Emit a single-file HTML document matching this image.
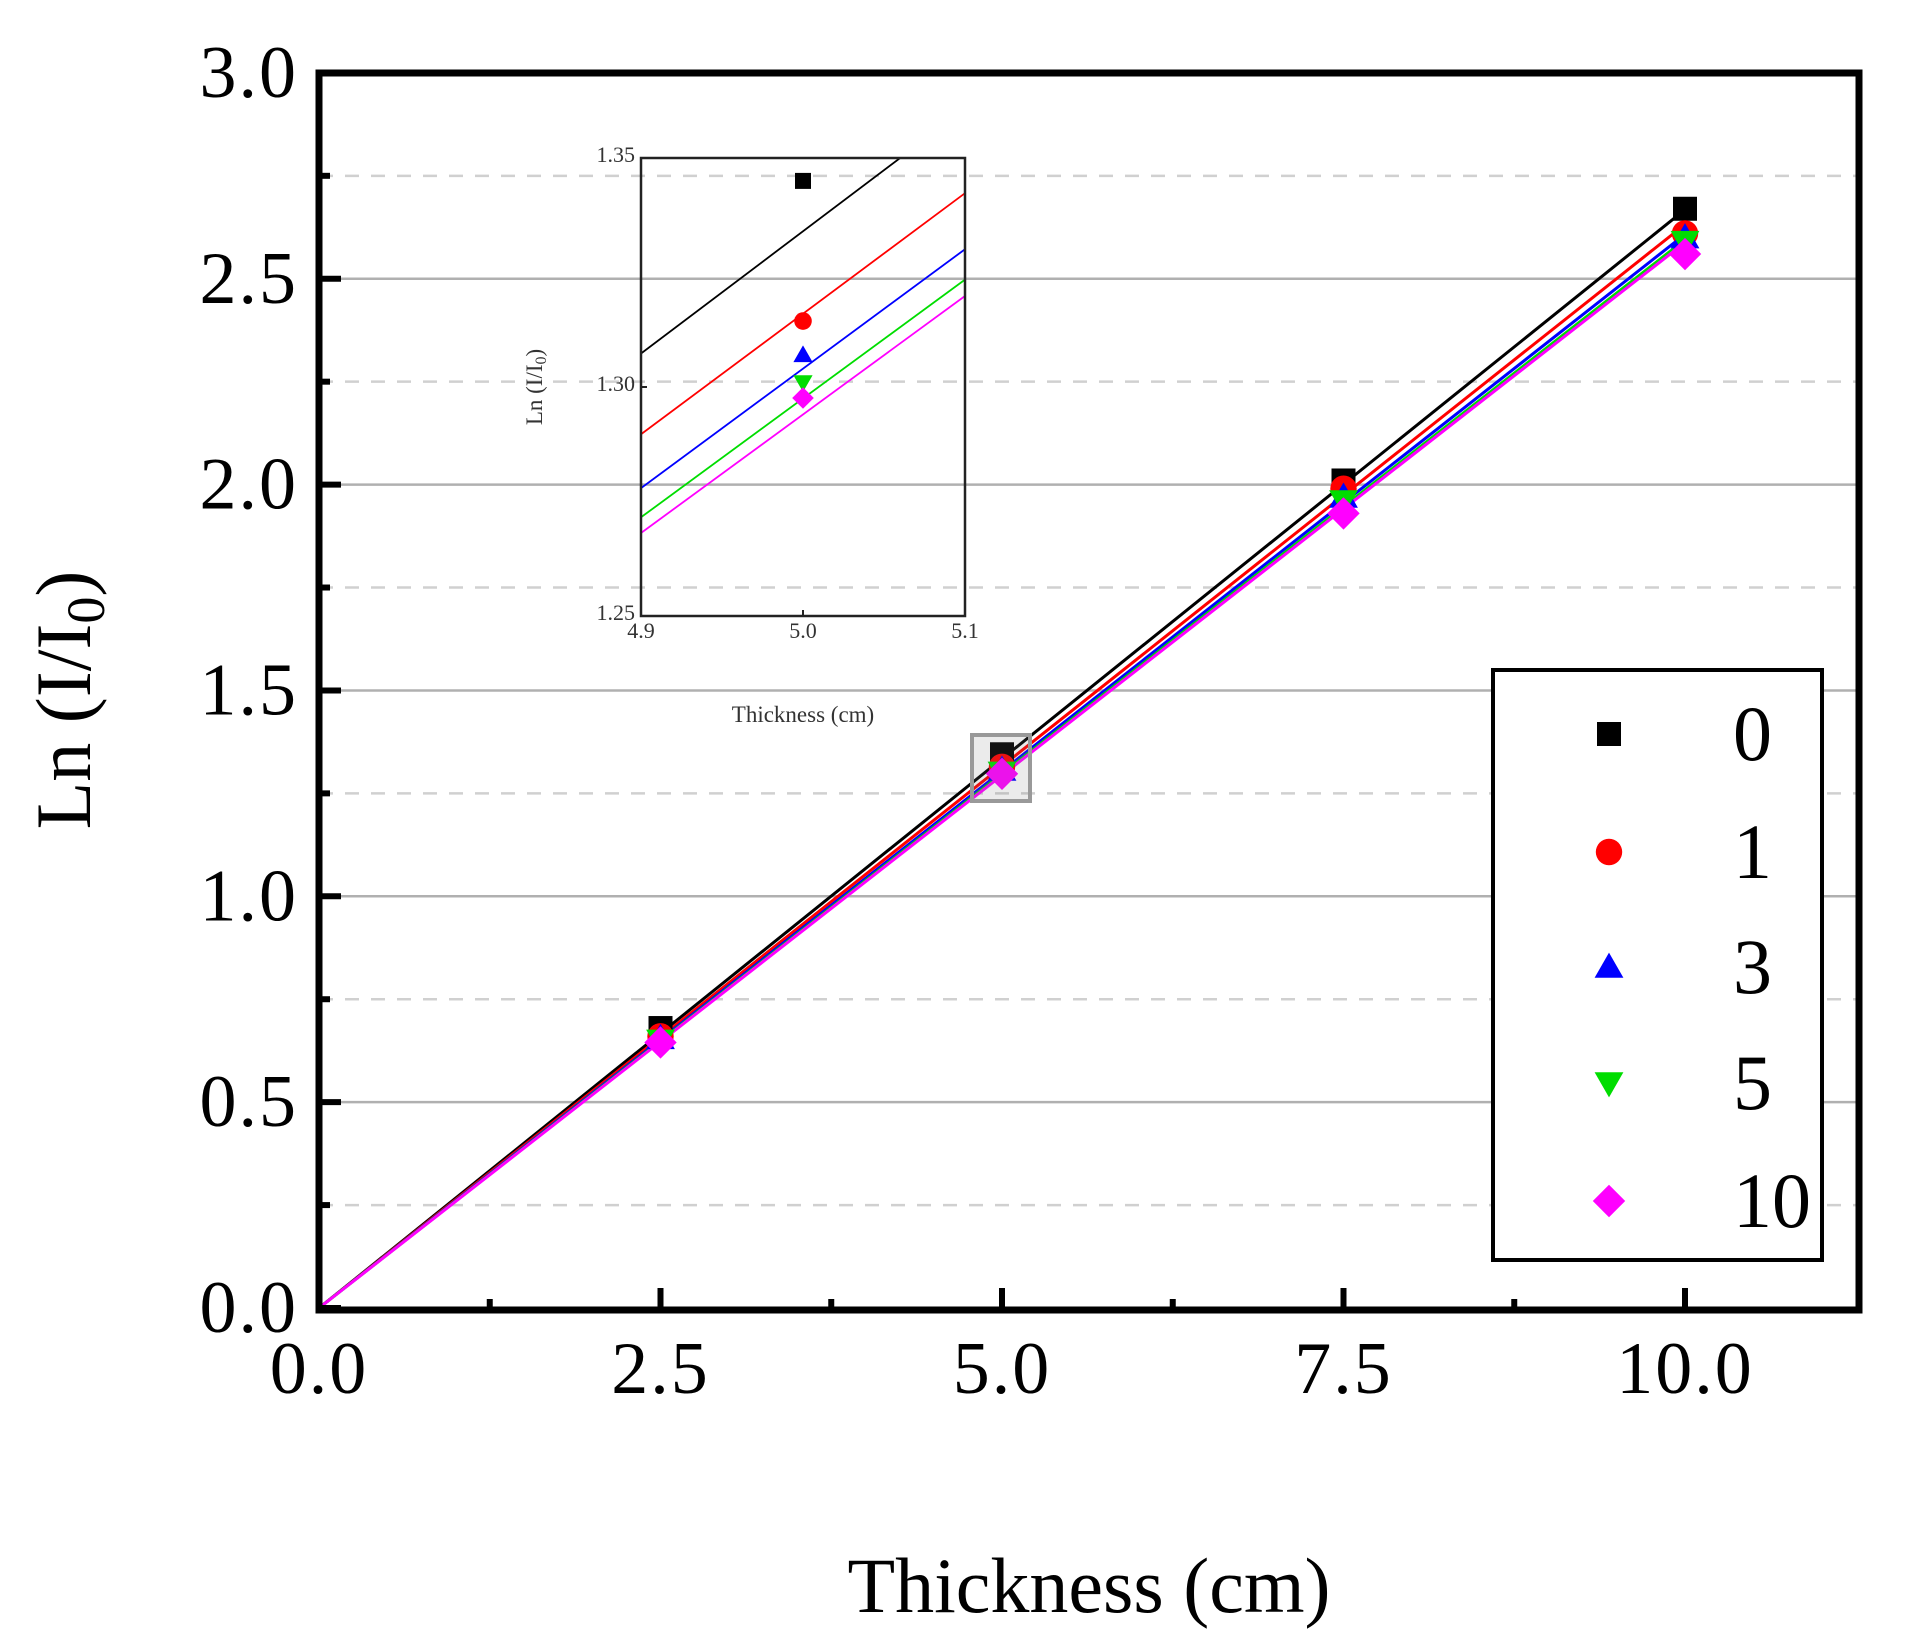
<!DOCTYPE html>
<html><head><meta charset="utf-8"><style>
body{margin:0;background:#fff;}
svg text{font-family:"Liberation Serif","DejaVu Serif",serif;}
</style></head><body>
<svg id="c" width="1906" height="1644" viewBox="0 0 1906 1644" xmlns="http://www.w3.org/2000/svg">
<g id="grid"></g>
<g id="inset"></g>
<g id="lines"></g>
<g id="marks"></g>
<g id="axes"></g>
<g id="legend"></g>
<text x="1089" y="1612" font-size="78" text-anchor="middle">Thickness (cm)</text>
<text transform="translate(90,700) rotate(-90)" font-size="78" text-anchor="middle">Ln (I/I<tspan font-size="54" dy="14">0</tspan><tspan dy="-14">)</tspan></text>
</svg>
<script>
const categories=[2.5,5.0,7.5,10.0];
const seriesNames=["0","1","3","5","10"];
const seriesColors=["#000000","#ff0000","#0000ff","#00dd00","#ff00ff"];
const seriesShapes=["square","circle","up","down","diamond"];
const values0=[0.68,1.345,2.01,2.67];
const values1=[0.66,1.3144,1.99,2.61];
const values3=[0.655,1.307,1.97,2.60];
const values5=[0.65,1.301,1.96,2.59];
const values10=[0.645,1.2976,1.93,2.56];
const fitSlopes=[0.2668,0.2632,0.2608,0.2595,0.2588];
const xTicks=["0.0","2.5","5.0","7.5","10.0"];
const yTicks=["0.0","0.5","1.0","1.5","2.0","2.5","3.0"];
const insetXTicks=["4.9","5.0","5.1"];
const insetYTicks=["1.25","1.30","1.35"];
const allValues=[values0,values1,values3,values5,values10];

const NS="http://www.w3.org/2000/svg";
function mk(tag,attrs,parent){const e=document.createElementNS(NS,tag);for(const k in attrs)e.setAttribute(k,attrs[k]);parent.appendChild(e);return e;}
const L=319,R=1859,T=73,B=1310;
const X=v=>L+v*136.6;
const Y=v=>1308-v*411.7;
const grid=document.getElementById('grid');
for(let i=1;i<12;i++){const v=i*0.25;const solid=i%2===0;
 const g=mk('line',{x1:L,x2:R,y1:Y(v),y2:Y(v),stroke:solid?'#b0b0b0':'#d0d0d0','stroke-width':2.5,'stroke-dasharray':solid?'none':'14 12'},grid);
 
 }
const IL=641,IR=965,IT=158,IB=616;
const IX=v=>IL+(v-4.9)/0.2*(IR-IL);
const IY=v=>IB-(v-1.25)/0.1*(IB-IT);
const ins=document.getElementById('inset');
const clip=mk('clipPath',{id:'ic'},ins);mk('rect',{x:IL,y:IT,width:IR-IL,height:IB-IT},clip);
const ilg=mk('g',{'clip-path':'url(#ic)'},ins);
fitSlopes.forEach((s,i)=>{const l=mk('line',{x1:IX(4.9),y1:IY(s*4.9),x2:IX(5.1),y2:IY(s*5.1),stroke:seriesColors[i],'stroke-width':1.8},ilg);
 
 });
function marker(parent,shape,cx,cy,r,color,name){let e;
 if(shape==='square')e=mk('rect',{x:cx-r,y:cy-r,width:2*r,height:2*r,fill:color},parent);
 else if(shape==='circle')e=mk('circle',{cx:cx,cy:cy,r:r*1.1,fill:color},parent);
 else if(shape==='up')e=mk('polygon',{points:`${cx},${cy-r*1.2} ${cx-r*1.2},${cy+r*0.9} ${cx+r*1.2},${cy+r*0.9}`,fill:color},parent);
 else if(shape==='down')e=mk('polygon',{points:`${cx},${cy+r*1.2} ${cx-r*1.2},${cy-r*0.9} ${cx+r*1.2},${cy-r*0.9}`,fill:color},parent);
 else e=mk('polygon',{points:`${cx},${cy-r*1.35} ${cx+r*1.35},${cy} ${cx},${cy+r*1.35} ${cx-r*1.35},${cy}`,fill:color},parent);
 
 return e;}
allValues.forEach((vals,i)=>{marker(ilg,seriesShapes[i],IX(categories[1]),IY(vals[1]),8,seriesColors[i],'inset-point-'+seriesNames[i]);});
mk('rect',{x:IL,y:IT,width:IR-IL,height:IB-IT,fill:'none',stroke:'#222','stroke-width':2.5},ins);
insetXTicks.forEach(t=>{const v=parseFloat(t);mk('line',{x1:IX(v),x2:IX(v),y1:IB,y2:IB-6,stroke:'#222','stroke-width':2},ins);
 const tx=mk('text',{x:IX(v),y:IB+22,'font-size':22,'text-anchor':'middle',fill:'#333'},ins);tx.textContent=t;
 
 });
insetYTicks.forEach(t=>{const v=parseFloat(t);mk('line',{x1:IL,x2:IL+6,y1:IY(v),y2:IY(v),stroke:'#222','stroke-width':2},ins);
 const tx=mk('text',{x:IL-6,y:IY(v)+4,'font-size':22,'text-anchor':'end',fill:'#333'},ins);tx.textContent=t;
 
 });
const ixt=mk('text',{x:803,y:722,'font-size':23,'text-anchor':'middle',fill:'#333'},ins);ixt.textContent='Thickness (cm)';


const iyt=mk('text',{transform:'translate(542,387) rotate(-90)','font-size':23,'text-anchor':'middle',fill:'#333'},ins);
iyt.innerHTML='Ln (I/I<tspan font-size="16" dy="4">0</tspan><tspan dy="-4">)</tspan>';


const lines=document.getElementById('lines');
fitSlopes.forEach((s,i)=>{const l=mk('line',{x1:X(0),y1:Y(0),x2:X(10),y2:Y(s*10),stroke:seriesColors[i],'stroke-width':3},lines);
 
 });
const marks=document.getElementById('marks');
allValues.forEach((vals,i)=>{vals.forEach((v,j)=>{marker(marks,seriesShapes[i],X(categories[j]),Y(v),12,seriesColors[i],'point-'+seriesNames[i]+'-'+categories[j]);});});
const zb=mk('rect',{x:972,y:735,width:58,height:66,fill:'rgba(120,120,120,0.15)',stroke:'#999','stroke-width':4},marks);


const axes=document.getElementById('axes');
mk('rect',{x:L,y:T,width:R-L,height:B-T,fill:'none',stroke:'#000','stroke-width':7},axes);
xTicks.forEach(t=>{const v=parseFloat(t);mk('line',{x1:X(v),x2:X(v),y1:B,y2:B-22,stroke:'#000','stroke-width':6},axes);
 const tx=mk('text',{x:X(v),y:1393,'font-size':74,'text-anchor':'middle','letter-spacing':2},axes);tx.textContent=t;
 
 });
for(let v=1.25;v<11;v+=2.5){mk('line',{x1:X(v),x2:X(v),y1:B,y2:B-11,stroke:'#000','stroke-width':6},axes);}
yTicks.forEach(t=>{const v=parseFloat(t);mk('line',{x1:L,x2:L+22,y1:Y(v),y2:Y(v),stroke:'#000','stroke-width':6},axes);
 const tx=mk('text',{x:298,y:Y(v)+24,'font-size':74,'text-anchor':'end','letter-spacing':2},axes);tx.textContent=t;
 
 });
for(let v=0.25;v<3;v+=0.5){mk('line',{x1:L,x2:L+11,y1:Y(v),y2:Y(v),stroke:'#000','stroke-width':6},axes);}
const lg=document.getElementById('legend');
mk('rect',{x:1493,y:670,width:329,height:590,fill:'#fff',stroke:'#000','stroke-width':4},lg);
const ly=[734,852,967,1083,1201];
seriesNames.forEach((n,i)=>{const g=mk('g',{},lg);
 
 
 marker(g,seriesShapes[i],1609,ly[i],12,seriesColors[i],'legend-marker-'+n);
 const tx=mk('text',{x:1733,y:ly[i]+26,'font-size':78,'text-anchor':'start'},g);tx.textContent=n;});
</script>
</body></html>
